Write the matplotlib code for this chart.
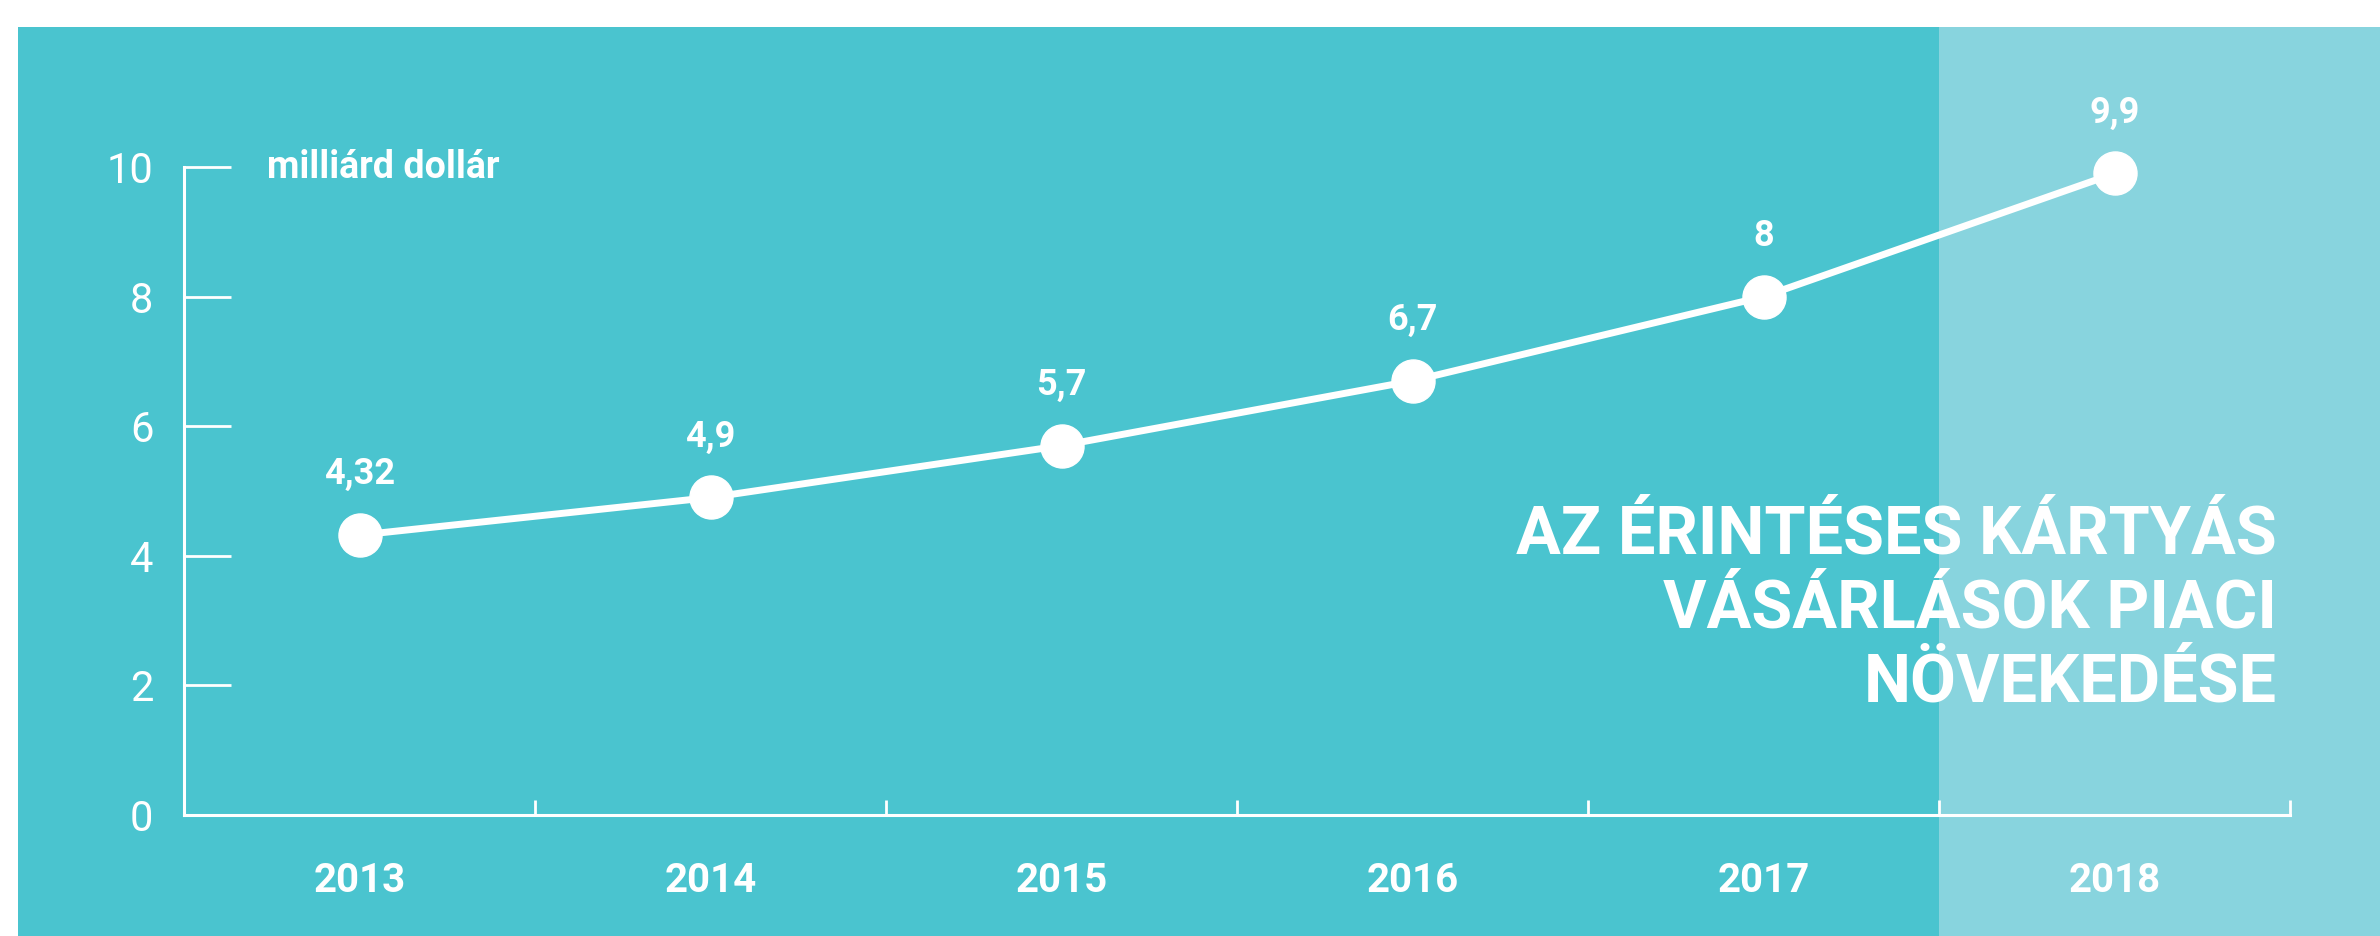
import matplotlib
matplotlib.use("Agg")
import matplotlib.pyplot as plt
from matplotlib import font_manager
from matplotlib.patches import Rectangle
from matplotlib.transforms import blended_transform_factory

# Market size of contactless card purchases, billion USD
years = ["2013", "2014", "2015", "2016", "2017", "2018"]
values = [4.32, 4.9, 5.7, 6.7, 8.0, 9.9]
value_labels = ["4,32", "4,9", "5,7", "6,7", "8", "9,9"]
y_ticks = [0, 2, 4, 6, 8, 10]
unit_label = "milliárd dollár"
title = "AZ ÉRINTÉSES KÁRTYÁS\nVÁSÁRLÁSOK PIACI\nNÖVEKEDÉSE"

TEAL = "#4AC4CF"
TEAL_LIGHT = "#88D4DE"
WHITE = "white"

installed = {f.name for f in font_manager.fontManager.ttflist}


def pick(*names):
    for n in names:
        if n in installed:
            return n
    return "DejaVu Sans"


bold_family = pick("Roboto", "Open Sans", "Lato")
bold_kw = dict(family=bold_family, weight="bold")
thin_family = pick("Roboto", "Open Sans", "Lato")
thin_kw = dict(family=thin_family, weight="normal")

W, H = 2380, 936
fig = plt.figure(figsize=(W / 100, H / 100), dpi=100, facecolor=WHITE)

# teal panel behind everything
fig.patches.append(Rectangle((18 / W, 0), 1, 1 - 27 / H, transform=fig.transFigure,
                             facecolor=TEAL, edgecolor="none", zorder=-10))

ax = fig.add_axes([184 / W, 121 / H, (2290 - 184) / W, (815 - 167) / H])
ax.set_zorder(1)
ax.patch.set_visible(False)
ax.set_xlim(-0.5, 5.5)
ax.set_ylim(0, 10)

# lighter band for the last year, running to the right edge
band_tr = blended_transform_factory(ax.transData, fig.transFigure)
ax.add_patch(Rectangle((4.5, 0), 3, 1 - 27 / H, transform=band_tr, clip_on=False,
                       facecolor=TEAL_LIGHT, edgecolor="none", zorder=0))

for s in ("top", "right"):
    ax.spines[s].set_visible(False)
for s in ("left", "bottom"):
    ax.spines[s].set_color(WHITE)
    ax.spines[s].set_linewidth(2.2)

# x: ticks between years, labels centred on years
ax.set_xticks([0.5, 1.5, 2.5, 3.5, 4.5, 5.5])
ax.set_xticklabels([])
ax.set_xticks(range(len(years)), minor=True)
ax.set_xticklabels(years, minor=True, color=WHITE, fontsize=29, **bold_kw)
ax.tick_params(axis="x", which="major", direction="in", length=11, width=2, color=WHITE)
ax.tick_params(axis="x", which="minor", length=0, pad=34)

ax.set_yticks(y_ticks)
ax.set_yticklabels([str(t) for t in y_ticks], color=WHITE, fontsize=30, **thin_kw)
ax.tick_params(axis="y", direction="in", length=34, width=2, color=WHITE, pad=22)

ax.plot(range(len(years)), values, color=WHITE, lw=5, marker="o", ms=31,
        mfc=WHITE, mec=WHITE, zorder=3, clip_on=False)

for i, (v, lbl) in enumerate(zip(values, value_labels)):
    ax.annotate(lbl, (i, v), xytext=(0, 31), textcoords="offset points",
                ha="center", va="bottom", color=WHITE, fontsize=26, **bold_kw)

ax.text((267 - 184) / (2290 - 184), 10, unit_label,
        transform=blended_transform_factory(ax.transAxes, ax.transData),
        ha="left", va="center", color=WHITE, fontsize=27, **bold_kw)

fig.text(2277 / W, 1 - 609 / H, title, ha="right", va="center", multialignment="right",
         color=WHITE, fontsize=48, linespacing=1.2, zorder=5, **bold_kw)

fig.savefig("out.png", dpi=100, facecolor=WHITE)
